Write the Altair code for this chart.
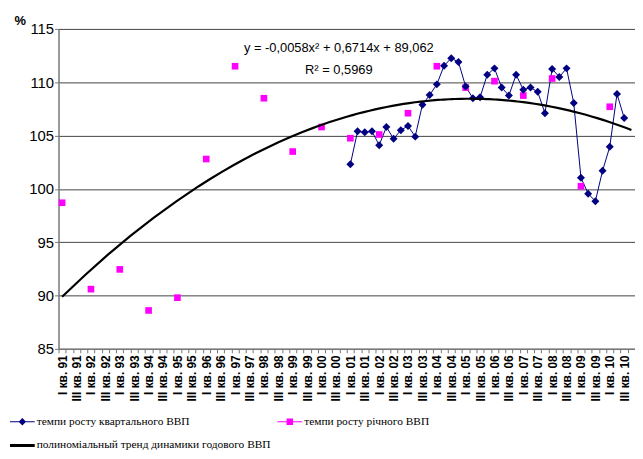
import altair as alt
import pandas as pd

years = ["91", "92", "93", "94", "95", "96", "97", "98", "99", "00",
         "01", "02", "03", "04", "05", "06", "07", "08", "09", "10"]

annual_growth = [98.7, 90.6, 92.45, 88.6, 89.8, 102.8, 111.5, 108.5, 103.5, 105.8,
                 104.75, 105.1, 107.1, 111.5, 109.5, 110.1, 108.75, 110.35, 100.25, 107.7]

# quarterly growth, I кв. 01 ... III кв. 10
quarterly_growth = [102.3, 105.4, 105.3, 105.4, 104.1, 105.8, 104.7, 105.5, 105.9, 104.9,
                    107.9, 108.8, 109.8, 111.55, 112.25, 111.9, 109.6, 108.5, 108.6, 110.7,
                    111.3, 109.5, 108.75, 110.7, 109.3, 109.5, 109.1, 107.1, 111.25, 110.5,
                    111.3, 108.05, 101.05, 99.55, 98.85, 101.7, 103.95, 108.9, 106.65]
quarterly_first_year = "01"

tick_labels = [f"{q} кв. {y}" for y in years for q in ("I", "III")]

series_names = ["темпи росту  квартального ВВП",
                "полиноміальный тренд динамики годового ВВП",
                "темпи росту річного ВВП"]
series_colors = ["#000080", "#000000", "#FF00FF"]

eq_lines = ["y = -0,0058x² + 0,6714x + 89,062", "R² = 0,5969"]
eq_x = [39.4, 39.4]
eq_y = [113.2, 111.15]

# ---- tables ----
n_quarters = 4 * len(years)
adf = pd.DataFrame({"xi": [1 + 4 * k for k in range(len(years))], "value": annual_growth})
q0 = 1 + 4 * years.index(quarterly_first_year)
qdf = pd.DataFrame({"xi": [q0 + j for j in range(len(quarterly_growth))], "value": quarterly_growth})
edf = pd.DataFrame({"xi": eq_x, "value": eq_y, "text": eq_lines})
ldf = pd.DataFrame({"series": series_names})

xs = alt.Scale(domain=[0.5, n_quarters + 0.5], nice=False, zero=False)
ys = alt.Scale(domain=[85, 115], nice=False, zero=False)

label_expr = "[" + ",".join(f"'{l}'" for l in tick_labels) + "][(datum.value - 1) / 2]"

main_x_axis = alt.Axis(
    values=[1 + 2 * k for k in range(len(tick_labels))],
    labelExpr=label_expr, orient="bottom", title=None, grid=False,
    ticks=False, labelAngle=-90, labelAlign="right", labelBaseline="middle",
    labelFont="Liberation Sans", labelFontWeight="bold", labelFontSize=12,
    labelColor="black", labelPadding=6, labelOverlap=False, labelFlush=False,
    domainColor="#777777", domainWidth=1.5,
)
tick_x_axis = alt.Axis(
    values=[0.5 + k for k in range(n_quarters + 1)], orient="bottom", title=None,
    labels=False, grid=False, domain=False, ticks=True, tickSize=4,
    tickColor="#777777", tickWidth=1,
)
y_axis = alt.Axis(
    orient="left",
    values=[85, 90, 95, 100, 105, 110, 115], grid=True, gridColor="#444444",
    gridWidth=1, domainColor="#777777", domainWidth=1.5, tickColor="#777777",
    tickSize=4, labelFont="Liberation Sans", labelFontSize=15, labelColor="black",
    labelPadding=1, title="%", titleAngle=0, titleAlign="left",
    titleBaseline="alphabetic", titleX=-45, titleY=-4, titleFontSize=13,
    titleFont="Liberation Sans", titleFontWeight="bold", titleColor="black",
)

Y = alt.Y("value:Q", scale=ys, axis=y_axis)

quarter_line = alt.Chart(qdf).mark_line(color="#000080", strokeWidth=1).encode(
    x=alt.X("xi:Q", scale=xs, axis=main_x_axis),
    y=Y,
)
quarter_pts = alt.Chart(qdf).mark_point(shape="diamond", filled=True, size=65,
                                        color="#000080", opacity=1).encode(
    x=alt.X("xi:Q", scale=xs, axis=None),
    y=Y,
)
annual_pts = alt.Chart(adf).mark_square(filled=True, size=45, color="#FF00FF",
                                        opacity=1).encode(
    x=alt.X("xi:Q", scale=xs, axis=tick_x_axis),
    y=Y,
)
trend = alt.Chart(adf).transform_regression(
    "xi", "value", method="poly", order=2, extent=[1, n_quarters]
).mark_line(color="#000000", strokeWidth=2.2).encode(
    x=alt.X("xi:Q", scale=xs, axis=None),
    y=Y,
)
eq_text = alt.Chart(edf).mark_text(font="Liberation Sans", fontSize=13, color="black",
                                   align="center", baseline="middle").encode(
    x=alt.X("xi:Q", scale=xs, axis=None),
    y=Y,
    text="text:N",
)

# symbol paths in [-1, 1] units (1 unit = 12.5 px at symbolSize 625);
# the zero-area sub-paths at y = +-0.9 only widen the entry's bounds
pad_path = " M0,-0.9L0,-0.9 M0,0.9L0,0.9"
legend_paths = [
    "M-1,-0.04L1,-0.04L1,0.04L-1,0.04Z M0,-0.3L0.3,0L0,0.3L-0.3,0Z" + pad_path,
    "M-1,-0.12L1,-0.12L1,0.12L-1,0.12Z" + pad_path,
    "M-1,-0.04L1,-0.04L1,0.04L-1,0.04Z M-0.26,-0.26L0.26,-0.26L0.26,0.26L-0.26,0.26Z" + pad_path,
]
leg = alt.Legend(
    title=None, orient="none", legendX=-49, legendY=384, columns=2,
    labelFont="Liberation Serif", labelFontSize=11.5, labelColor="black",
    symbolSize=625, symbolStrokeWidth=0, labelOffset=2, rowPadding=0,
    columnPadding=6, padding=0, labelLimit=400, symbolOpacity=1,
)
legend_layer = alt.Chart(ldf).transform_filter("false").mark_point(
    filled=True, opacity=1, size=625
).encode(
    color=alt.Color("series:N", scale=alt.Scale(domain=series_names, range=series_colors), legend=leg),
    shape=alt.Shape("series:N", scale=alt.Scale(domain=series_names, range=legend_paths), legend=leg),
)

chart = alt.layer(
    quarter_line, annual_pts, quarter_pts, trend, eq_text, legend_layer
).resolve_axis(x="independent").properties(
    width=582, height=323,
    autosize=alt.AutoSizeParams(type="none"),
    padding={"left": 51, "top": 19, "right": 0, "bottom": 100},
    background="white",
).configure_view(stroke=None)

chart.save("out.html", embed_options={"renderer": "svg", "actions": False})
